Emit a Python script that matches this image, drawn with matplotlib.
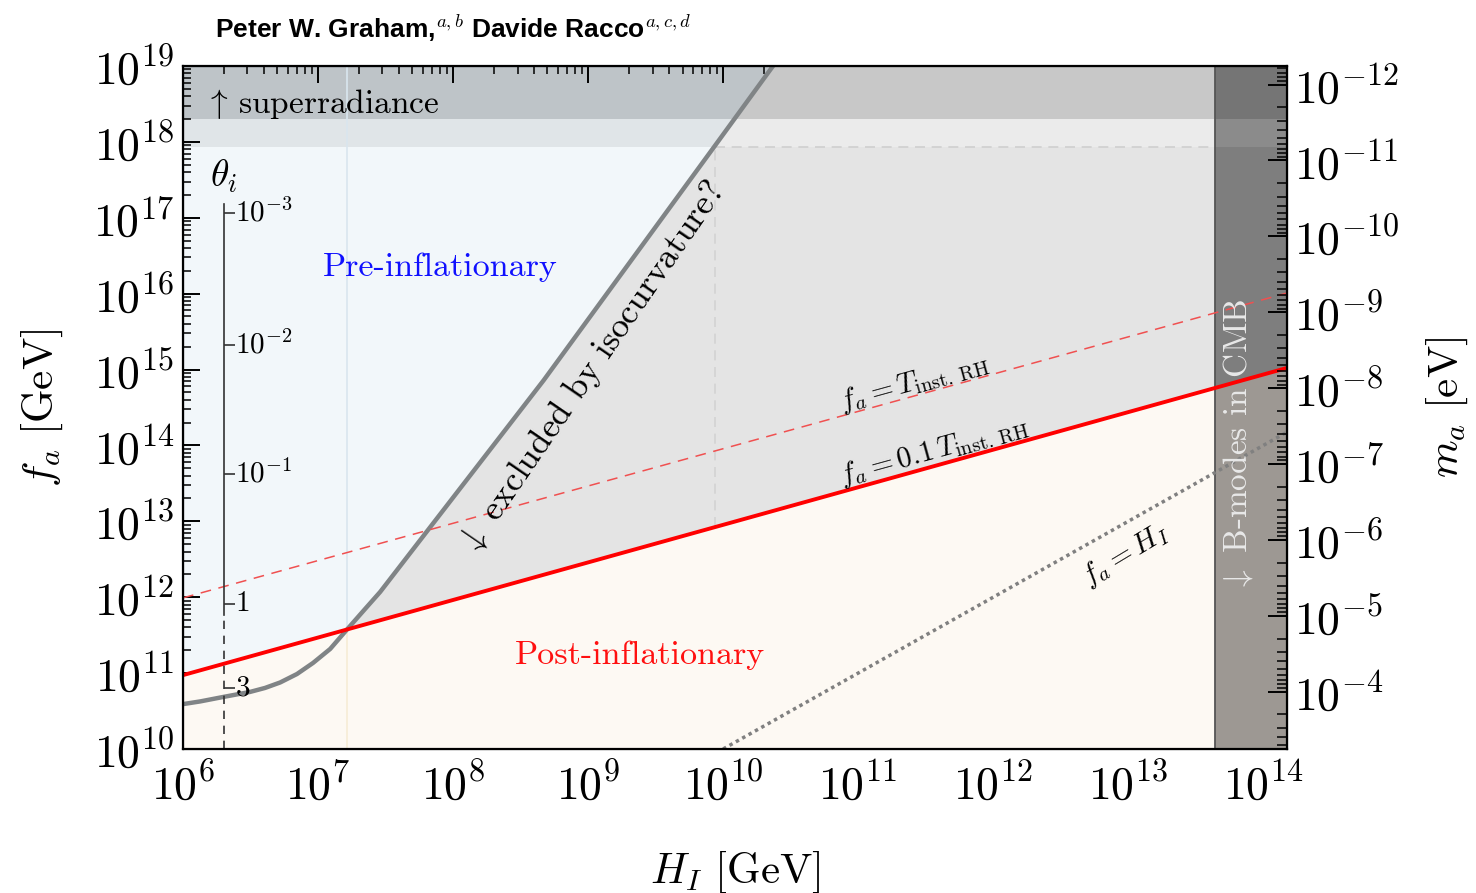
import numpy as np
import matplotlib
matplotlib.use("Agg")
import matplotlib.pyplot as plt
from matplotlib.ticker import LogLocator, FuncFormatter, NullFormatter
from matplotlib.patches import Rectangle

plt.rcParams.update({
    "mathtext.fontset": "cm",
    "font.family": "serif",
    "font.serif": ["cmr10"],
    "axes.unicode_minus": False,
})

# ---------------- data ----------------
H_lim = [1e6, 1.5e14]          # GeV
f_lim = [1e10, 1e19]           # GeV
ma_conv = 5.7e6                # m_a [eV] * f_a [GeV]

H_red = [1e6, 1.5e14]
fa_01T = [9.4e10, 1.05e15]     # f_a = 0.1 T_inst.RH
fa_T = [9.8e11, 1.02e16]       # f_a = T_inst.RH

H_diag = [1e10, 1.5e14]
fa_diag = [1e10, 1.5e14]       # f_a = H_I

H_iso = [1.0e6, 1.34e6, 1.98e6, 3.13e6, 4.05e6, 5.24e6, 6.98e6, 9.18e6,
         1.23e7, 1.64e7, 2.23e7, 2.88e7, 4.68e8, 9.12e9, 2.34e10]
fa_iso = [3.9e10, 4.23e10, 4.84e10, 5.64e10, 6.37e10, 7.52e10, 9.72e10, 1.36e11,
          2.08e11, 3.76e11, 7.0e11, 1.17e12, 7.2e14, 1.0e18, 1.0e19]
i_cross = 9                    # iso curve meets the red line

f_super = [2e18, 1e19]         # superradiance band
f_band = [8.5e17, 2e18]        # lighter band
H_box = 8.7e9                  # dashed box corner
f_box_low = 8.4e12
H_cmb = 4.4e13                 # B-modes bound

H_theta = 2e6
theta_labels = [r"$10^{-3}$", r"$10^{-2}$", r"$10^{-1}$", r"$1$", r"$3$"]
theta_fa = [1.15e17, 2.1e15, 4.2e13, 8.1e11, 6.3e10]
theta_top = 1.5e17
theta_solid_end = 5.9e11

# ---------------- colours ----------------
c_blue = "#f2f7fa"
c_grey = "#e4e4e4"
c_cream = "#fdf9f3"
c_band_l = "#e0e5e8"
c_band_r = "#ebebeb"
c_sup_l = "#bec4c8"
c_sup_r = "#c8c8c8"

fig = plt.figure(figsize=(14.76, 8.93), dpi=100)
ax = fig.add_axes([0.124, 0.1613, 0.748, 0.7648])
ax.set_xscale("log")
ax.set_yscale("log")
ax.set_xlim(H_lim)
ax.set_ylim(f_lim)
ax.set_facecolor(c_blue)

# left-of-curve band colours
ax.axhspan(f_band[0], f_band[1], color=c_band_l, lw=0, zorder=1)
ax.axhspan(f_super[0], f_super[1], color=c_sup_l, lw=0, zorder=1)

# post-inflationary region
ax.fill_between(H_red, f_lim[0], fa_01T, color=c_cream, lw=0, zorder=2)

# isocurvature-excluded region
xs = H_iso[i_cross:] + [H_lim[1], H_lim[1]]
ys = fa_iso[i_cross:] + [f_lim[1], fa_01T[1]]
grey_patch = ax.fill(xs, ys, color=c_grey, lw=0, zorder=2)[0]
b1 = ax.axhspan(f_band[0], f_band[1], color=c_band_r, lw=0, zorder=2.5)
b1.set_clip_path(grey_patch)
b2 = ax.axhspan(f_super[0], f_super[1], color=c_sup_r, lw=0, zorder=2.5)
b2.set_clip_path(grey_patch)

# faint vertical edge at the crossing
ax.plot([H_iso[i_cross]] * 2, [fa_iso[i_cross], f_lim[1]], color="#d9e6ef", lw=1.2, zorder=2.6)
ax.plot([H_iso[i_cross]] * 2, [f_lim[0], fa_iso[i_cross]], color="#f6ecd6", lw=1.2, zorder=2.6)

# dashed grey box lines
ax.plot([H_box, H_lim[1]], [f_band[0], f_band[0]], color="#cfcfcf", lw=1.2, ls=(0, (6, 4)), zorder=3)
ax.plot([H_box, H_box], [f_box_low, f_band[0]], color="#d2d2d2", lw=1.2, ls=(0, (6, 4)), zorder=3)

# CMB B-mode band
rect = Rectangle((H_cmb, f_lim[0]), H_lim[1] - H_cmb, f_lim[1] - f_lim[0],
                 transform=ax.transData)
ax.axvspan(H_cmb, H_lim[1], color="#7e7e7e", lw=0, zorder=4)
p = ax.fill_between(H_red, f_lim[0], fa_01T, color="#9d9893", lw=0, zorder=4.1)
p.set_clip_path(rect)
p = ax.axhspan(f_band[0], f_band[1], color="#8b8b8b", lw=0, zorder=4.1)
p.set_clip_path(rect)
p = ax.axhspan(f_super[0], f_super[1], color="#757575", lw=0, zorder=4.1)
p.set_clip_path(rect)
ax.axvline(H_cmb, color="#555555", lw=1.3, zorder=4.5)

# lines
ax.plot(H_iso, fa_iso, color="#808486", lw=3.2, zorder=5, solid_joinstyle="round")
ax.plot(H_red, fa_T, color="#f05050", lw=1.1, dashes=(7, 5), zorder=5)
ax.plot(H_red, fa_01T, color="#ff0000", lw=2.8, zorder=5.5)
ax.plot(H_diag, fa_diag, color="#808080", lw=2.5, ls=(0, (1, 1.1)), zorder=5)

# theta_i inner axis
ax.plot([H_theta, H_theta], [theta_solid_end, theta_top], color="#333333", lw=1.2, zorder=6)
ax.plot([H_theta, H_theta], [f_lim[0], theta_solid_end], color="#333333", lw=1.2,
        dashes=(5, 4), zorder=6)
ax.plot([H_theta] * len(theta_fa), theta_fa, ls="none", marker=[(0, 0), (1, 0)],
        ms=16, mew=1.2, color="#333333", zorder=6)
for lab, fv in zip(theta_labels, theta_fa):
    ax.annotate(lab, xy=(H_theta, fv), xytext=(8, 0), textcoords="offset points",
                ha="left", va="center", fontsize=21, zorder=7)
ax.text(H_theta, 3.5e17, r"$\theta_i$", ha="center", va="center", fontsize=27, zorder=7)

# annotations
ax.text(1.45e6, 3.2e18, r"$\uparrow\,$superradiance", ha="left", va="center",
        fontsize=24, zorder=7)
ax.text(8.0e7, 2.2e16, "Pre-inflationary", color="#1010ff", ha="center", va="center",
        fontsize=24.5, zorder=7)
ax.text(2.4e9, 1.74e11, "Post-inflationary", color="#ff1010", ha="center", va="center",
        fontsize=24.5, zorder=7)
ax.text(1.07e9, 1.05e15, r"$\downarrow$ excluded by isocurvature?", rotation=55.5,
        rotation_mode="anchor", ha="center", va="center", fontsize=25.5, zorder=7)
ax.text(2.6e11, 6.8e14, r"$f_a = T_{\rm inst.\,RH}$", rotation=15.4,
        rotation_mode="anchor", ha="center", va="center", fontsize=21, zorder=7)
ax.text(3.66e11, 8.5e13, r"$f_a = 0.1\,T_{\rm inst.\,RH}$", rotation=15.4,
        rotation_mode="anchor", ha="center", va="center", fontsize=21, zorder=7)
ax.text(9.5e12, 3.6e12, r"$f_a = H_I$", rotation=31,
        rotation_mode="anchor", ha="center", va="center", fontsize=21, zorder=7)
ax.text(6.5e13, 1e14, r"$\downarrow$ B-modes in CMB", rotation=90, color="#e8e8e8",
        rotation_mode="anchor", ha="center", va="center", fontsize=24, zorder=7)

# ticks
fmt = FuncFormatter(lambda v, pos: r"$10^{%d}$" % int(round(np.log10(v))))
for axis in (ax.xaxis, ax.yaxis):
    axis.set_major_locator(LogLocator(base=10, numticks=30))
    axis.set_minor_locator(LogLocator(base=10, subs=np.arange(2, 10), numticks=300))
    axis.set_major_formatter(fmt)
    axis.set_minor_formatter(NullFormatter())
ax.tick_params(which="both", direction="in", top=True, right=False, labelsize=33)
ax.tick_params(which="major", length=12, width=1.4)
ax.tick_params(which="minor", length=6, width=1.1)
ax.tick_params(axis="x", pad=10)
ax.tick_params(axis="y", pad=6)
for s in ax.spines.values():
    s.set_linewidth(1.6)
    s.set_zorder(10)

ax2 = ax.twinx()
ax2.set_yscale("log")
ax2.set_ylim(ma_conv / f_lim[0], ma_conv / f_lim[1])
ax2.yaxis.set_major_locator(LogLocator(base=10, numticks=30))
ax2.yaxis.set_minor_locator(LogLocator(base=10, subs=np.arange(2, 10), numticks=300))
ax2.yaxis.set_major_formatter(fmt)
ax2.yaxis.set_minor_formatter(NullFormatter())
ax2.tick_params(which="both", direction="in", labelsize=33, pad=5)
ax2.tick_params(which="major", length=14, width=1.4)
ax2.tick_params(which="minor", length=7, width=1.1)

# labels
ax.set_xlabel(r"$H_I\ [\mathrm{GeV}]$", fontsize=31)
ax.xaxis.set_label_coords(0.5, -0.148)
ax.set_ylabel(r"$f_a\ [\mathrm{GeV}]$", fontsize=31)
ax.yaxis.set_label_coords(-0.107, 0.5)
ax2.set_ylabel(r"$m_a\ [\mathrm{eV}]$", fontsize=31)
ax2.yaxis.set_label_coords(1.125, 0.5)

fig.text(215 / 1476, 1 - 28 / 893, r"Peter W. Graham,$^{a,b}$ Davide Racco$^{a,c,d}$",
         family=["Liberation Sans"], fontweight="bold",
         fontsize=19, ha="left", va="center")

fig.savefig("out.png", dpi=100)
